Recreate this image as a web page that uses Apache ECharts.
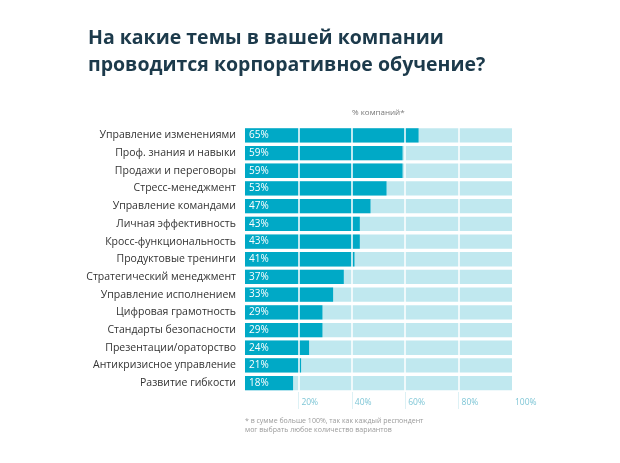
<!DOCTYPE html>
<html>
<head>
<meta charset="utf-8">
<script src="https://cdn.jsdelivr.net/npm/echarts@6/dist/echarts.min.js"></script>
<style>
html,body{margin:0;padding:0;background:#fff;}
#chart{width:620px;height:463px;}
</style>
</head>
<body>
<div id="chart"></div>
<script>
const categories = [
  'Управление изменениями',
  'Проф. знания и навыки',
  'Продажи и переговоры',
  'Стресс-менеджмент',
  'Управление командами',
  'Личная эффективность',
  'Кросс-функциональность',
  'Продуктовые тренинги',
  'Стратегический менеджмент',
  'Управление исполнением',
  'Цифровая грамотность',
  'Стандарты безопасности',
  'Презентации/ораторство',
  'Антикризисное управление',
  'Развитие гибкости'
];
const values = [65, 59, 59, 53, 47, 43, 43, 41, 37, 33, 29, 29, 24, 21, 18];
const tickValues = [20, 40, 60, 80, 100];
const tickMarks = [20, 40, 60, 80];

const FONT = 'Open Sans';
const chart = echarts.init(document.getElementById('chart'));
chart.setOption({
  backgroundColor: '#ffffff',
  animation: false,
  textStyle: { fontFamily: FONT },
  title: [
    {
      text: 'На какие темы в вашей компании\nпроводится корпоративное обучение?',
      left: 83, top: 20,
      textStyle: { fontFamily: FONT, fontWeight: 'bold', fontSize: 19.5, lineHeight: 27, color: '#1c3a4b' }
    },
    {
      text: '% компаний*',
      left: 347, top: 104,
      textStyle: { fontFamily: FONT, fontWeight: 'normal', fontSize: 8, color: '#777' }
    },
    {
      text: '* в сумме больше 100%, так как каждый респондент\nмог выбрать любое количество вариантов',
      left: 240, top: 411,
      textStyle: { fontFamily: FONT, fontWeight: 'normal', fontSize: 7, lineHeight: 9, color: '#9a9a9a' }
    }
  ],
  grid: { left: 245, right: 108, top: 126.5, bottom: 71, containLabel: false },
  xAxis: {
    type: 'value', min: 0, max: 100, interval: 20, z: 10,
    axisLine: { show: false },
    axisTick: { show: true, length: 17, customValues: tickMarks, lineStyle: { color: '#ddf1f5', width: 1 } },
    splitLine: { show: true, lineStyle: { color: '#ffffff', width: 1.5 } },
    axisLabel: {
      customValues: tickValues,
      formatter: '{value}%', align: 'left', margin: 6, padding: [0, 0, 0, 3],
      fontSize: 8.5, color: '#7fc6d6', fontFamily: FONT
    }
  },
  yAxis: {
    type: 'category', data: categories, inverse: true,
    axisLine: { show: false }, axisTick: { show: false },
    axisLabel: { margin: 9, fontSize: 10.5, color: '#333', fontFamily: FONT }
  },
  series: [{
    type: 'bar', data: values, barWidth: 14.3,
    itemStyle: { color: '#00a9c6' },
    showBackground: true,
    backgroundStyle: { color: '#c0e8ef' },
    label: {
      show: true, position: 'insideLeft', distance: 4,
      formatter: '{c}%', color: '#ffffff', fontSize: 10, fontFamily: FONT
    }
  }]
});
</script>
</body>
</html>
